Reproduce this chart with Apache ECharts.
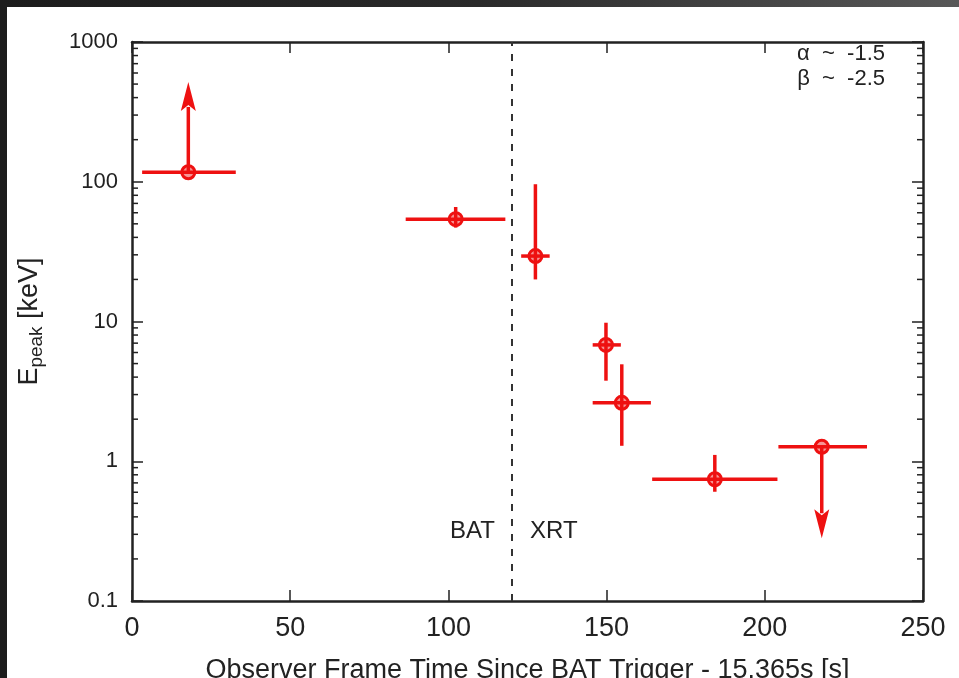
<!DOCTYPE html>
<html>
<head>
<meta charset="utf-8">
<script src="https://cdn.jsdelivr.net/npm/echarts@6/dist/echarts.min.js"></script>
<style>
  html, body { margin: 0; padding: 0; width: 959px; height: 678px; overflow: hidden;
    background: linear-gradient(90deg, #1c1c1c 0%, #2a2a2a 50%, #585858 100%); }
  #chart { position: absolute; left: 7px; top: 7px; width: 952px; height: 671px; background: #fff; }
</style>
</head>
<body>
<div id="chart"></div>
<script>
// 时间 (s)
var tMid = [17.8, 102.3, 127.5, 149.8, 154.8, 184.2, 218];
var tLo = [3.2, 86.5, 123, 145.6, 145.6, 164.4, 204.3];
var tHi = [32.8, 118, 132, 154.5, 164, 204, 232.3];
// Epeak (keV)
var ePeak = [117, 54, 29.4, 6.8, 2.62, 0.743, 1.27];
var eLo = [117, 47, 20, 3.77, 1.29, 0.605, 1.27];
var eHi = [117, 66, 96, 9.8, 4.94, 1.11, 1.27];
// 上下限箭头: [t, 起点, 终点]
var limits = [[17.8, 117, 518], [218, 1.27, 0.281]];
var xTicks = [0, 50, 100, 150, 200, 250];
var yTicks = [0.1, 1, 10, 100, 1000];
var yMinor = [0.2, 0.3, 0.4, 0.5, 0.6, 0.7, 0.8, 0.9,
  2, 3, 4, 5, 6, 7, 8, 9,
  20, 30, 40, 50, 60, 70, 80, 90,
  200, 300, 400, 500, 600, 700, 800, 900];
var splitT = 120;

var RED = "#ee1111";
var INK = "#222";
var FONT = "Liberation Sans";

var errData = tMid.map(function (t, i) {
  return [t, ePeak[i], tLo[i], tHi[i], eLo[i], eHi[i]];
});

function renderErr(params, api) {
  var p = api.coord([api.value(0), api.value(1)]);
  var xl = api.coord([api.value(2), api.value(1)]);
  var xh = api.coord([api.value(3), api.value(1)]);
  var yl = api.coord([api.value(0), api.value(4)]);
  var yh = api.coord([api.value(0), api.value(5)]);
  var st = { stroke: RED, lineWidth: 3.5 };
  return {
    type: "group",
    children: [
      { type: "line", shape: { x1: xl[0], y1: p[1], x2: xh[0], y2: p[1] }, style: st },
      { type: "line", shape: { x1: p[0], y1: yl[1], x2: p[0], y2: yh[1] }, style: st },
      { type: "circle", shape: { cx: p[0], cy: p[1], r: 6.5 },
        style: { stroke: RED, lineWidth: 3, fill: "rgba(238,17,17,0.45)" } }
    ]
  };
}

function renderLimit(params, api) {
  var a = api.coord([api.value(0), api.value(1)]);
  var b = api.coord([api.value(0), api.value(2)]);
  var dir = b[1] < a[1] ? -1 : 1;
  var headLen = 29, headW = 7.5;
  var base = b[1] - dir * headLen;
  return {
    type: "group",
    children: [
      { type: "line", shape: { x1: a[0], y1: a[1], x2: b[0], y2: base + dir * 4 },
        style: { stroke: RED, lineWidth: 3.5 } },
      { type: "polygon", shape: { points: [[b[0], b[1]], [b[0] - headW, base], [b[0], base + dir * 6], [b[0] + headW, base]] },
        style: { fill: RED } }
    ]
  };
}

function renderMinor(params, api) {
  var l = api.coord([0, api.value(0)]);
  var r = api.coord([250, api.value(0)]);
  var st = { stroke: INK, lineWidth: 1.5 };
  return {
    type: "group",
    children: [
      { type: "line", shape: { x1: l[0], y1: l[1], x2: l[0] + 6, y2: l[1] }, style: st },
      { type: "line", shape: { x1: r[0] - 6, y1: r[1], x2: r[0], y2: r[1] }, style: st }
    ]
  };
}

var axisLine = { show: true, onZero: false, lineStyle: { color: INK, width: 2.5 } };
var axisTick = { show: true, inside: true, length: 11, lineStyle: { color: INK, width: 1.5 } };

var option = {
  animation: false,
  backgroundColor: "#fff",
  textStyle: { fontFamily: FONT },
  grid: { left: 125, right: 36, top: 35, bottom: 77, outerBoundsMode: "none", containLabel: false },
  xAxis: [
    {
      type: "value", min: xTicks[0], max: xTicks[xTicks.length - 1], interval: 50,
      position: "bottom",
      axisLine: axisLine, axisTick: axisTick, splitLine: { show: false },
      axisLabel: { fontSize: 27, color: INK, margin: 14, fontFamily: FONT },
      name: "Observer Frame Time Since BAT Trigger - 15.365s [s]",
      nameLocation: "middle", nameGap: 56,
      nameTextStyle: { fontSize: 27, color: INK, fontFamily: FONT }
    },
    {
      type: "value", min: 0, max: 250, interval: 50, position: "top",
      axisLine: axisLine, axisTick: axisTick, splitLine: { show: false },
      axisLabel: { show: false }
    }
  ],
  yAxis: [
    {
      type: "log", logBase: 10, min: yTicks[0], max: yTicks[yTicks.length - 1],
      position: "left",
      axisLine: axisLine, axisTick: axisTick, splitLine: { show: false },
      axisLabel: {
        fontSize: 22, color: INK, margin: 14, fontFamily: FONT,
        formatter: function (v) { return String(v); }
      },
      name: "{m|E}{s|peak}{m| [keV]}",
      nameLocation: "middle", nameGap: 86,
      nameTextStyle: {
        color: INK, fontFamily: FONT,
        rich: {
          m: { fontSize: 27, color: INK, fontFamily: FONT },
          s: { fontSize: 19, color: INK, fontFamily: FONT, padding: [14, 0, 0, 0] }
        }
      }
    },
    {
      type: "log", logBase: 10, min: 0.1, max: 1000, position: "right",
      axisLine: axisLine, axisTick: axisTick, splitLine: { show: false },
      axisLabel: { show: false }
    }
  ],
  graphic: [
    { type: "text", right: 74, top: 36,
      style: { text: "α  ~  -1.5", font: "22px " + FONT, fill: INK } },
    { type: "text", right: 74, top: 61,
      style: { text: "β  ~  -2.5", font: "22px " + FONT, fill: INK } },
    { type: "text", left: 443, top: 512,
      style: { text: "BAT", font: "24px " + FONT, fill: INK } },
    { type: "text", left: 523, top: 512,
      style: { text: "XRT", font: "24px " + FONT, fill: INK } }
  ],
  series: [
    {
      type: "custom", renderItem: renderMinor, silent: true, clip: false,
      encode: { y: 0 },
      data: yMinor.map(function (v) { return [v]; }),
      markLine: {
        silent: true, symbol: "none", label: { show: false },
        lineStyle: { type: [7, 8], color: "#333", width: 2 },
        data: [{ xAxis: splitT }]
      }
    },
    {
      type: "custom", renderItem: renderErr, silent: true,
      encode: { x: 0, y: 1 },
      data: errData, z: 5
    },
    {
      type: "custom", renderItem: renderLimit, silent: true,
      encode: { x: 0, y: [1, 2] },
      data: limits, z: 5
    }
  ]
};

var myChart = echarts.init(document.getElementById("chart"));
myChart.setOption(option);
</script>
</body>
</html>
